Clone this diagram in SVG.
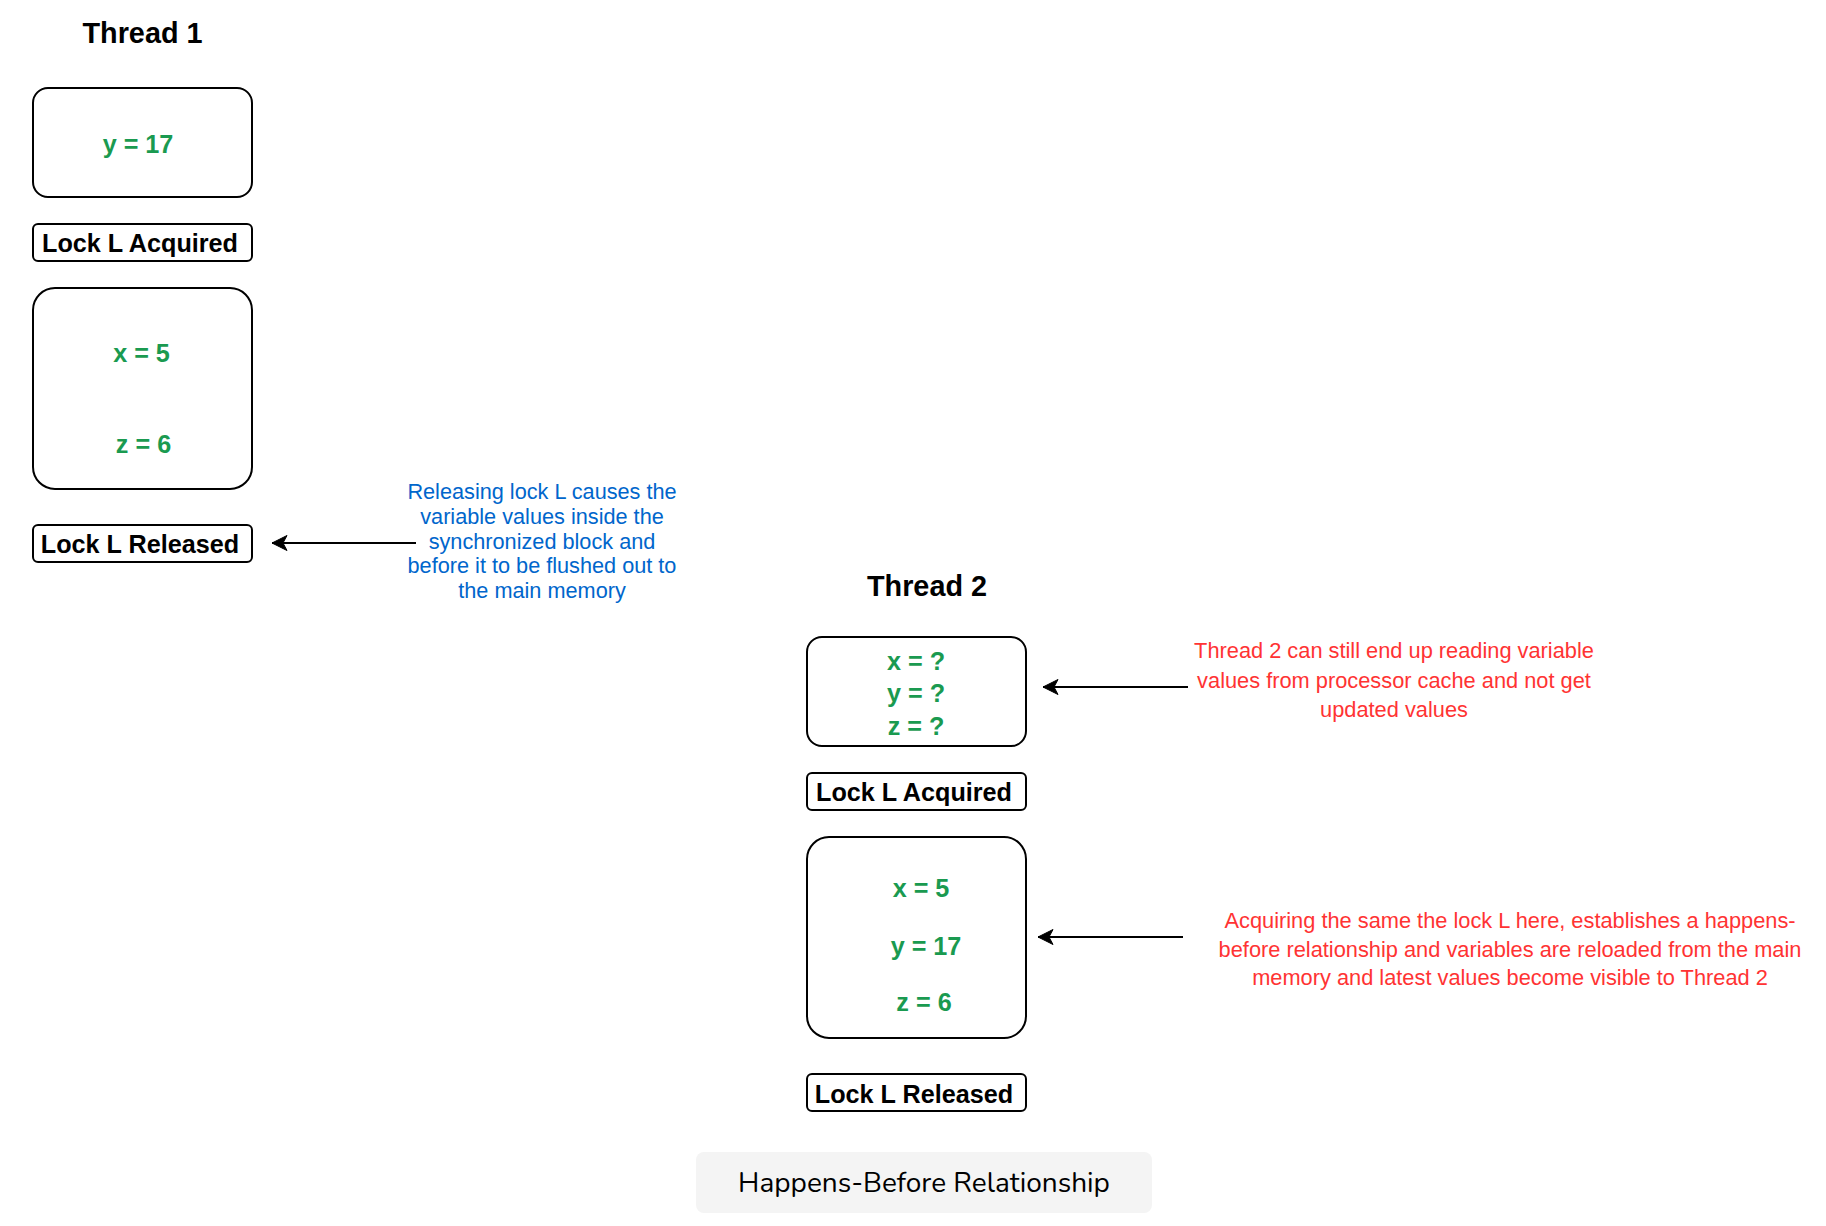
<svg xmlns="http://www.w3.org/2000/svg" width="1826" height="1226" viewBox="0 0 1826 1226">
<defs>
<style>
.box{fill:#ffffff;stroke:#000000;stroke-width:2}
.title{font-family:"Liberation Sans",Arial,sans-serif;font-weight:bold;font-size:28.8px;fill:#000000;text-anchor:middle}
.lock{font-family:"Liberation Sans",Arial,sans-serif;font-weight:bold;font-size:25.2px;fill:#000000;text-anchor:middle}
.var{font-family:"Liberation Sans",Arial,sans-serif;font-weight:bold;font-size:25.2px;fill:#1A9A50;text-anchor:middle}
.blue{font-family:"Liberation Sans",Arial,sans-serif;font-size:21.7px;fill:#0066CC;text-anchor:middle}
.red{font-family:"Liberation Sans",Arial,sans-serif;font-size:21.8px;fill:#FF3333;text-anchor:middle}
.cap{font-family:"Nunito","Lato","Open Sans",sans-serif;font-size:28px;fill:#000000;text-anchor:middle}
.conn{stroke:#000000;stroke-width:2;fill:none}
</style>
<marker id="arr" markerUnits="userSpaceOnUse" markerWidth="18" markerHeight="18" viewBox="-16 -9 18 18" refX="0" refY="0" orient="auto">
<path d="M0,0 L-15,-7.5 L-11,0 L-15,7.5 Z" fill="#000000" stroke="#000000" stroke-width="1" stroke-linejoin="miter"/>
</marker>
</defs>
<rect width="1826" height="1226" fill="#ffffff"/>

<g id="thread1-title"><text class="title" x="142.5" y="43">Thread 1</text></g>
<g id="t1-box-before"><rect class="box" x="33" y="88" width="219" height="109" rx="15"/><text class="var" x="138" y="153">y = 17</text></g>
<g id="t1-lock-acquired"><rect class="box" x="33" y="224" width="219" height="37" rx="5"/><text class="lock" x="140" y="252">Lock L Acquired</text></g>
<g id="t1-box-sync"><rect class="box" x="33" y="288" width="219" height="201" rx="22"/><text class="var" x="141.5" y="362">x = 5</text><text class="var" x="143.5" y="453">z = 6</text></g>
<g id="t1-lock-released"><rect class="box" x="33" y="525" width="219" height="37" rx="5"/><text class="lock" x="140" y="553">Lock L Released</text></g>
<g id="note-release"><text class="blue"><tspan x="542" y="499.3">Releasing lock L causes the</tspan><tspan x="542" y="524">variable values inside the</tspan><tspan x="542" y="549">synchronized block and</tspan><tspan x="542" y="573.3">before it to be flushed out to</tspan><tspan x="542" y="598.3">the main memory</tspan></text></g>

<g id="thread2-title"><text class="title" x="927" y="596">Thread 2</text></g>
<g id="t2-box-before"><rect class="box" x="807" y="637" width="219" height="109" rx="15"/><text class="var" x="916" y="670">x = ?</text><text class="var" x="916" y="702">y = ?</text><text class="var" x="916" y="735">z = ?</text></g>
<g id="note-cache"><text class="red"><tspan x="1394" y="658">Thread 2 can still end up reading variable</tspan><tspan x="1394" y="688">values from processor cache and not get</tspan><tspan x="1394" y="717">updated values</tspan></text></g>
<g id="t2-lock-acquired"><rect class="box" x="807" y="773" width="219" height="37" rx="5"/><text class="lock" x="914" y="801">Lock L Acquired</text></g>
<g id="t2-box-sync"><rect class="box" x="807" y="837" width="219" height="201" rx="22"/><text class="var" x="921" y="897">x = 5</text><text class="var" x="926" y="955">y = 17</text><text class="var" x="924" y="1011">z = 6</text></g>
<g id="note-acquire"><text class="red"><tspan x="1510" y="928">Acquiring the same the lock L here, establishes a happens-</tspan><tspan x="1510" y="957">before relationship and variables are reloaded from the main</tspan><tspan x="1510" y="985">memory and latest values become visible to Thread 2</tspan></text></g>
<g id="t2-lock-released"><rect class="box" x="807" y="1074" width="219" height="37" rx="5"/><text class="lock" x="914" y="1103">Lock L Released</text></g>

<g id="caption"><rect x="696" y="1152" width="456" height="61" rx="8" fill="#f4f4f4"/><text class="cap" x="924" y="1192">Happens-Before Relationship</text></g>

<g id="connectors">
<line class="conn" x1="416" y1="543" x2="272" y2="543" marker-end="url(#arr)"/>
<line class="conn" x1="1188" y1="687" x2="1043" y2="687" marker-end="url(#arr)"/>
<line class="conn" x1="1183" y1="937" x2="1038" y2="937" marker-end="url(#arr)"/>
</g>
</svg>
